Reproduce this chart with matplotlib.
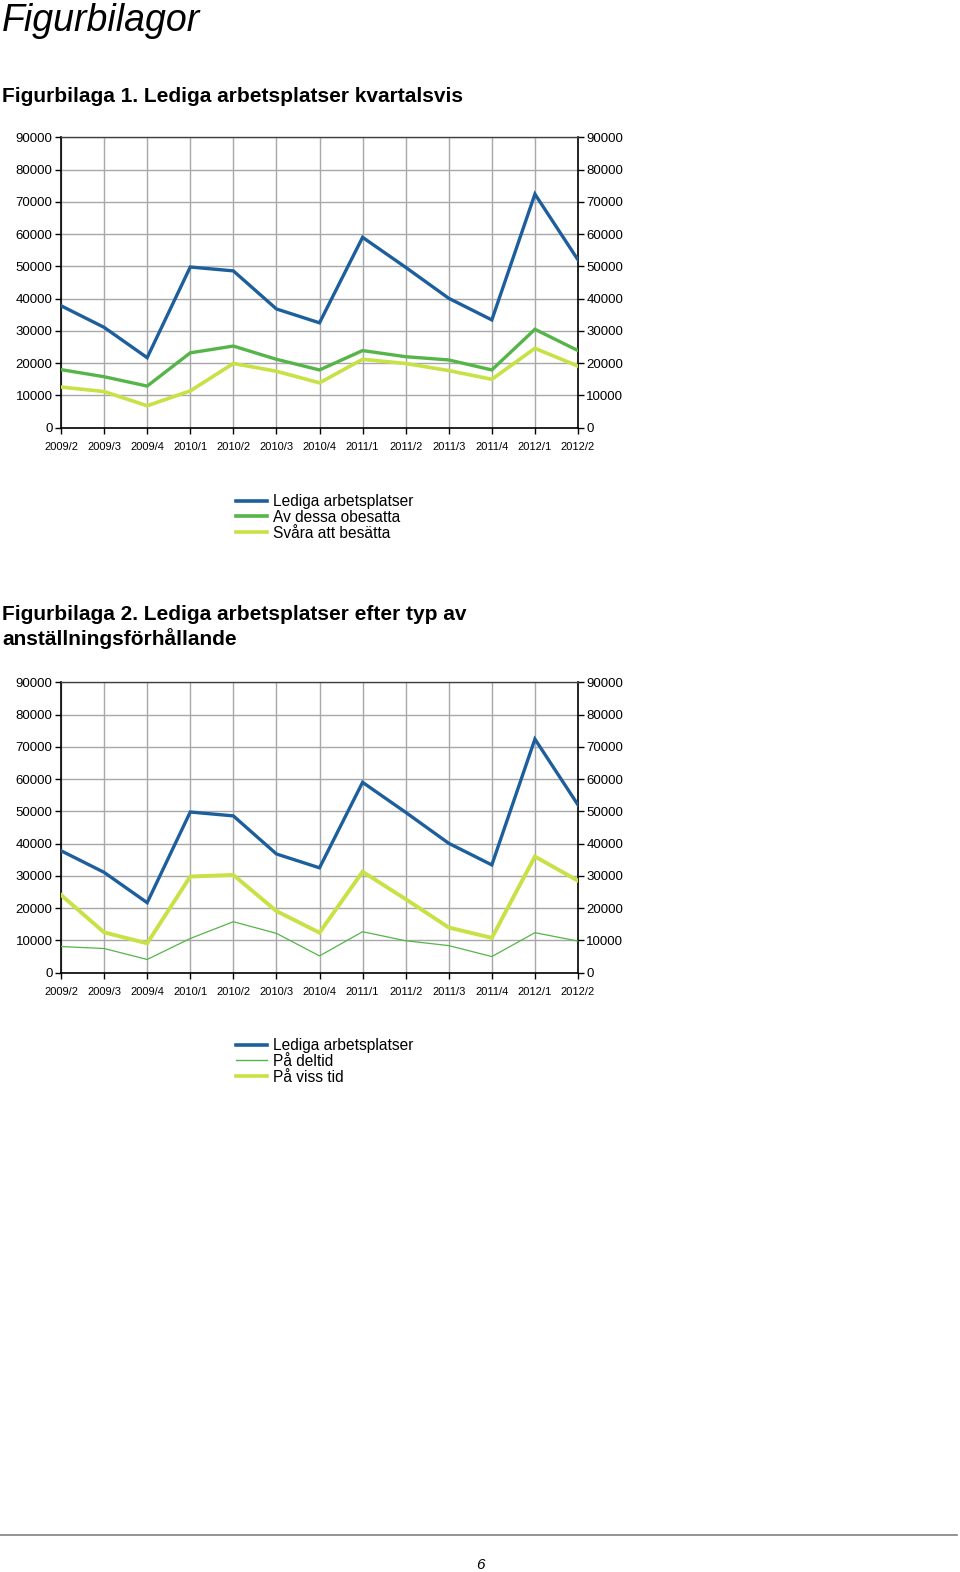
import matplotlib
matplotlib.use("Agg")
import matplotlib.pyplot as plt
from matplotlib.lines import Line2D

plt.rcParams['font.family'] = ['Liberation Sans', 'DejaVu Sans']

quarters = ['2009/2', '2009/3', '2009/4', '2010/1', '2010/2', '2010/3', '2010/4',
            '2011/1', '2011/2', '2011/3', '2011/4', '2012/1', '2012/2']

lediga = [37800, 31100, 21700, 49800, 48600, 36800, 32500,
          59000, 49700, 40100, 33400, 72400, 52000]
obesatta = [18000, 15800, 12900, 23200, 25300, 21200, 17900,
            23900, 22000, 21000, 17900, 30500, 23900]
svara = [12600, 11200, 6800, 11400, 19900, 17500, 13900,
         21200, 19900, 17700, 15000, 24600, 19100]
deltid = [8100, 7500, 4100, 10600, 15800, 12200, 5200,
          12700, 9900, 8400, 5000, 12400, 9800]
viss_tid = [24100, 12500, 9100, 29800, 30300, 19100, 12400,
            31300, 22800, 14000, 10800, 36000, 28500]

yticks = list(range(0, 90001, 10000))

BLUE = '#1d5f9d'
GREEN = '#55b548'
LIME = '#c6e245'

W, H = 960, 1572
fig = plt.figure(figsize=(W / 100, H / 100), dpi=100)


def fx(px):
    return px / W


def fy(py):
    return 1 - py / H


def make_chart(top_px, series):
    bottom_px = top_px + 290.4
    ax = fig.add_axes([fx(61), fy(bottom_px), fx(578) - fx(61), (bottom_px - top_px) / H])
    x = list(range(len(quarters)))
    for vals, color, lw in series:
        ax.plot(x, vals, color=color, lw=lw, solid_joinstyle='miter', zorder=3)
    ax.set_xlim(0, len(quarters) - 1)
    ax.set_ylim(0, 90000)
    ax.set_xticks(x)
    ax.set_xticklabels(quarters, fontsize=8)
    ax.set_yticks(yticks)
    ax.set_yticklabels([str(v) for v in yticks], fontsize=9.5)
    ax.tick_params(axis='y', which='both', left=True, right=True,
                   labelleft=True, labelright=True, length=4, width=1, pad=2)
    ax.tick_params(axis='x', length=4, width=1, pad=6)
    ax.grid(True, color='#a8a8a8', lw=1)
    ax.set_axisbelow(True)
    for side in ['left', 'right', 'bottom']:
        ax.spines[side].set_color('black')
        ax.spines[side].set_linewidth(1.2)
    ax.spines['top'].set_color('#404040')
    ax.spines['top'].set_linewidth(1)
    return ax


def add_legend(handles, labels, top_px):
    fig.legend(handles, labels, loc='upper left', bbox_to_anchor=(fx(236), fy(top_px)),
               frameon=False, fontsize=11.2, handlelength=2.0, handletextpad=0.4,
               labelspacing=0.05, borderaxespad=0, borderpad=0)


# Title
fig.text(fx(2), fy(21), 'Figurbilagor', fontsize=27, style='italic',
         va='center', ha='left')

# Chart 1
fig.text(fx(2), fy(96), 'Figurbilaga 1. Lediga arbetsplatser kvartalsvis',
         fontsize=15, weight='bold', va='center', ha='left')
make_chart(137.3, [(lediga, BLUE, 2.4), (obesatta, GREEN, 2.4), (svara, LIME, 2.6)])
h1 = [Line2D([], [], color=BLUE, lw=2.6), Line2D([], [], color=GREEN, lw=2.6),
      Line2D([], [], color=LIME, lw=2.6)]
add_legend(h1, ['Lediga arbetsplatser', 'Av dessa obesatta', 'Svåra att besätta'], 494)

# Chart 2
fig.text(fx(2), fy(614), 'Figurbilaga 2. Lediga arbetsplatser efter typ av',
         fontsize=15, weight='bold', va='center', ha='left')
fig.text(fx(2), fy(639), 'anställningsförhållande',
         fontsize=15, weight='bold', va='center', ha='left')
make_chart(682.3, [(lediga, BLUE, 2.4), (deltid, GREEN, 0.9), (viss_tid, LIME, 2.8)])
h2 = [Line2D([], [], color=BLUE, lw=2.6), Line2D([], [], color=GREEN, lw=1),
      Line2D([], [], color=LIME, lw=2.6)]
add_legend(h2, ['Lediga arbetsplatser', 'På deltid', 'På viss tid'], 1038)

# Footer
fig.add_artist(Line2D([fx(0), fx(957)], [fy(1535), fy(1535)], color='#808080', lw=1.2))
fig.text(fx(480), fy(1565), '6', fontsize=11, style='italic', ha='center', va='center')

fig.savefig('out.png', dpi=100)
